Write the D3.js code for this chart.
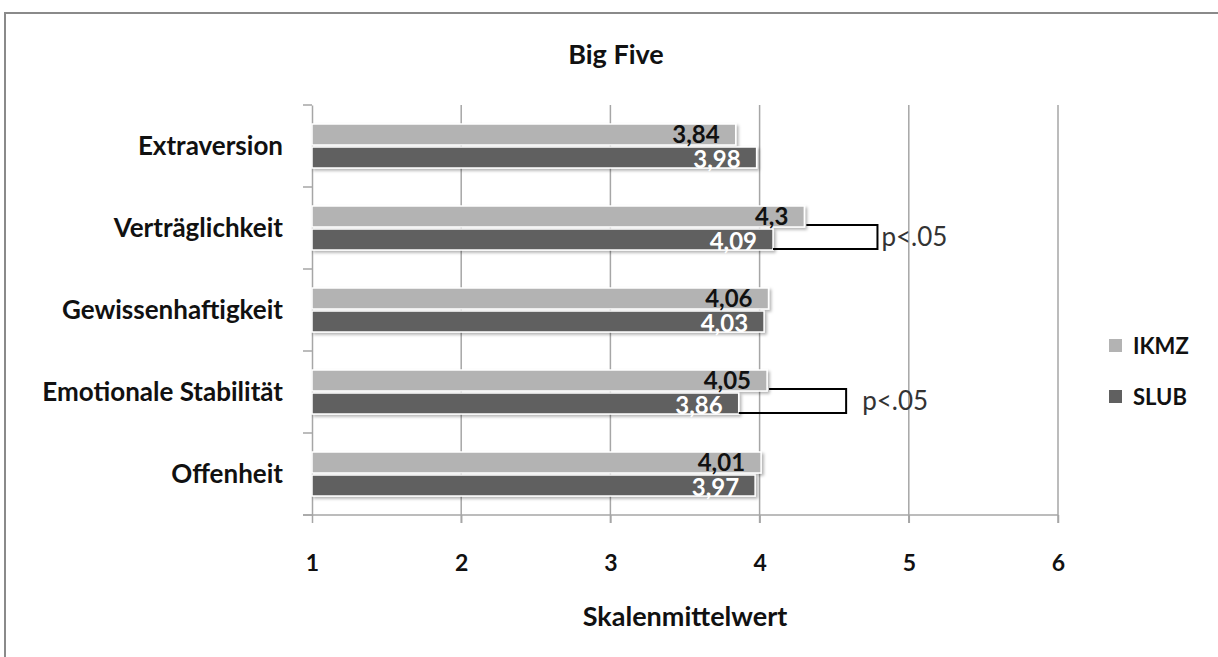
<!DOCTYPE html>
<html><head><meta charset="utf-8">
<script src="https://cdn.jsdelivr.net/npm/d3@7/dist/d3.min.js"></script>
<style>body{margin:0;background:#fff}svg{display:block}</style>
</head><body>
<svg id="chart" width="1218" height="657"></svg>
<script>
const categories = ["Extraversion","Verträglichkeit","Gewissenhaftigkeit","Emotionale Stabilität","Offenheit"];
const seriesNames = ["IKMZ","SLUB"];
const ikmz = [3.84, 4.3, 4.06, 4.05, 4.01];
const slub = [3.98, 4.09, 4.03, 3.86, 3.97];
const labelsIKMZ = ["3,84","4,3","4,06","4,05","4,01"];
const labelsSLUB = ["3,98","4,09","4,03","3,86","3,97"];
const xTicks = [1,2,3,4,5,6];
const sigCategories = ["Verträglichkeit","Emotionale Stabilität"];
const sigBracketValues = [4.79, 4.58];
const sigLabels = ["p<.05","p<.05"];
const sigLabelOffsets = [4, 16];

const colors = {IKMZ:"#b3b3b3", SLUB:"#606060"};
const font = "Lato, 'Liberation Sans', Arial, sans-serif";

const svg = d3.select("#chart");
const defs = svg.append("defs");
const f = defs.append("filter").attr("id","shadow").attr("x","-5%").attr("y","-30%").attr("width","110%").attr("height","170%");
f.append("feDropShadow").attr("dx",2).attr("dy",2).attr("stdDeviation",1.5).attr("flood-color","#000").attr("flood-opacity",0.3);

// outer frame
svg.append("rect").attr("x",5).attr("y",13).attr("width",1300).attr("height",700)
  .attr("fill","#fff").attr("stroke","#8a8a8a").attr("stroke-width",2);

const pL = 312, pR = 1058, pT = 105, pB = 515;
const x = d3.scaleLinear().domain([1,6]).range([pL,pR]);
const y = d3.scaleBand().domain(categories).range([pT,pB]).paddingInner(0).paddingOuter(0);

// gridlines
svg.append("g").selectAll("line").data(xTicks.slice(1)).join("line")
  .attr("x1",d=>x(d)).attr("x2",d=>x(d)).attr("y1",pT).attr("y2",pB+8)
  .attr("stroke","#a6a6a6").attr("stroke-width",1.5);

// x axis
const xAxis = svg.append("g").attr("transform",`translate(0,${pB})`)
  .call(d3.axisBottom(x).tickValues(xTicks).tickSize(8).tickFormat(d3.format("d")));
xAxis.select(".domain").attr("stroke","#a6a6a6").attr("stroke-width",1.5).attr("d",`M${pL-9},0H${pR}`);
xAxis.selectAll(".tick line").attr("stroke","#a6a6a6").attr("stroke-width",1.5);
xAxis.selectAll(".tick text").attr("y",56).attr("dy",0).attr("font-family",font).attr("font-size",23).attr("font-weight","bold").attr("fill","#111");

// y axis
const yAxis = svg.append("g").attr("transform",`translate(${pL},0)`)
  .call(d3.axisLeft(y).tickSize(0).tickPadding(29));
yAxis.select(".domain").attr("stroke","#a6a6a6").attr("stroke-width",1.5);
yAxis.selectAll(".tick text").attr("font-family",font).attr("font-size",26).attr("font-weight","bold").attr("fill","#111").attr("dy","0.36em");
// boundary ticks on y axis
svg.append("g").selectAll("line").data(categories.concat(["__end"])).join("line")
  .attr("x1",pL-9).attr("x2",pL)
  .attr("y1",(d,i)=> i<categories.length ? y(d) : pB)
  .attr("y2",(d,i)=> i<categories.length ? y(d) : pB)
  .attr("stroke","#a6a6a6").attr("stroke-width",1.5);

const inner = d3.scaleBand().domain(seriesNames).range([0,y.bandwidth()]).paddingInner(0.087).paddingOuter(0.826);

const data = categories.map((c,i)=>({cat:c, IKMZ:ikmz[i], SLUB:slub[i], lI:labelsIKMZ[i], lS:labelsSLUB[i]}));
const bars = svg.append("g");
data.forEach(d=>{
  seriesNames.forEach(s=>{
    const yy = y(d.cat)+inner(s);
    bars.append("rect").attr("x",x(1)).attr("y",yy).attr("width",x(d[s])-x(1)).attr("height",inner.bandwidth())
      .attr("fill",colors[s]).attr("stroke","#fff").attr("stroke-width",1.5).attr("filter","url(#shadow)");
  });
});
data.forEach(d=>{
  seriesNames.forEach(s=>{
    const yy = y(d.cat)+inner(s);
    bars.append("text").attr("x",x(d[s])-16).attr("y",yy+inner.bandwidth()-(s==="IKMZ"?2:0))
      .attr("text-anchor","end").attr("font-family",font).attr("font-size",24).attr("font-weight","bold")
      .attr("fill", s==="IKMZ" ? "#111" : "#fff").text(s==="IKMZ"?d.lI:d.lS);
  });
});

// significance brackets
sigCategories.forEach((c,i)=>{
  const d = data.find(e=>e.cat===c);
  const yI = y(c)+inner("IKMZ")+inner.bandwidth()-2;
  const yS = y(c)+inner("SLUB")+inner.bandwidth()-1;
  const bx = x(sigBracketValues[i]);
  svg.append("path").attr("d",`M${x(d.IKMZ)+2},${yI}H${bx}V${yS}H${x(d.SLUB)}`)
    .attr("fill","none").attr("stroke","#000").attr("stroke-width",2);
  svg.append("text").attr("x",bx+sigLabelOffsets[i]).attr("y",(yI+yS)/2+9)
    .attr("font-family",font).attr("font-size",26).attr("fill","#333").text(sigLabels[i]);
});

// title
svg.append("text").attr("x",616).attr("y",64).attr("text-anchor","middle")
  .attr("font-family",font).attr("font-size",27).attr("font-weight","bold").attr("fill","#111").text("Big Five");
// axis title
svg.append("text").attr("x",(pL+pR)/2).attr("y",626).attr("text-anchor","middle")
  .attr("font-family",font).attr("font-size",27).attr("font-weight","bold").attr("fill","#111").text("Skalenmittelwert");

// legend
const lg = svg.append("g");
seriesNames.forEach((s,i)=>{
  lg.append("rect").attr("x",1109).attr("y",339+i*51).attr("width",13).attr("height",13).attr("fill",colors[s]);
  lg.append("text").attr("x",1133).attr("y",354+i*51).attr("font-family",font).attr("font-size",22)
    .attr("font-weight","bold").attr("fill","#111").text(s);
});
</script>
</body></html>
